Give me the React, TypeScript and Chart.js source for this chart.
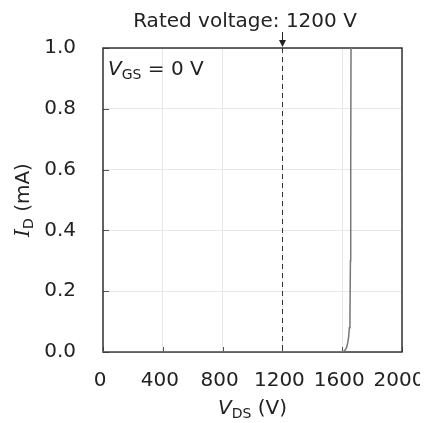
import React, { useEffect, useRef } from "react";
import { Chart, registerables } from "chart.js";

Chart.register(...registerables);

// Drain current vs. drain-source voltage, gate shorted
const vdsVolts = [0, 400, 800, 1200, 1600, 1612, 1622, 1630, 1637, 1643, 1648, 1652, 1655, 1657, 1659];
const idMilliamps = [0, 0, 0, 0, 0, 0.003, 0.008, 0.016, 0.03, 0.05, 0.08, 0.12, 0.3, 0.6, 1.0];

const xTickValues = [0, 400, 800, 1200, 1600, 2000];
const yTickValues = [0, 0.2, 0.4, 0.6, 0.8, 1.0];

const ratedVoltage = 1200;
const ratedLabel = "Rated voltage: 1200 V";

const SANS = "'DejaVu Sans', Verdana, sans-serif";
const SERIF = "'DejaVu Serif', serif";
const TEXT = "#222";
const FS = 20;
const SUB = 14;

type Seg = { t: string; font: string; dy?: number };

function segWidth(ctx: CanvasRenderingContext2D, segs: Seg[]) {
  let w = 0;
  for (const s of segs) {
    ctx.font = s.font;
    w += ctx.measureText(s.t).width;
  }
  return w;
}

function drawSegs(ctx: CanvasRenderingContext2D, segs: Seg[], x: number, y: number) {
  let cx = x;
  ctx.textBaseline = "alphabetic";
  ctx.textAlign = "left";
  for (const s of segs) {
    ctx.font = s.font;
    ctx.fillText(s.t, cx, y + (s.dy || 0));
    cx += ctx.measureText(s.t).width;
  }
}

const decorations = {
  id: "decorations",
  beforeDatasetsDraw(chart: any) {
    const { ctx, chartArea: a, scales } = chart;
    const xs = scales.x;
    const ys = scales.y;
    ctx.save();
    // inward tick marks
    ctx.strokeStyle = "#555";
    ctx.lineWidth = 1;
    for (const v of xTickValues) {
      const px = Math.round(xs.getPixelForValue(v)) + 0.5;
      ctx.beginPath();
      ctx.moveTo(px, a.bottom);
      ctx.lineTo(px, a.bottom - 5);
      ctx.stroke();
    }
    for (const v of yTickValues) {
      const py = Math.round(ys.getPixelForValue(v)) + 0.5;
      ctx.beginPath();
      ctx.moveTo(a.left, py);
      ctx.lineTo(a.left + 6, py);
      ctx.stroke();
    }
    // frame
    ctx.strokeStyle = "#333";
    ctx.lineWidth = 1.5;
    ctx.strokeRect(a.left, a.top, a.right - a.left, a.bottom - a.top);
    // rated voltage marker
    const rx = Math.round(xs.getPixelForValue(ratedVoltage)) + 0.5;
    ctx.strokeStyle = "#333";
    ctx.lineWidth = 1;
    ctx.setLineDash([5, 4]);
    ctx.beginPath();
    ctx.moveTo(rx, a.top);
    ctx.lineTo(rx, a.bottom);
    ctx.stroke();
    ctx.setLineDash([]);
    ctx.restore();
  },
  afterDraw(chart: any) {
    const { ctx, chartArea: a, scales } = chart;
    const xs = scales.x;
    ctx.save();
    ctx.fillStyle = TEXT;
    ctx.strokeStyle = "#222";

    // annotation with arrow
    const rx = Math.round(xs.getPixelForValue(ratedVoltage)) + 0.5;
    ctx.font = `${FS}px ${SANS}`;
    ctx.textAlign = "center";
    ctx.textBaseline = "alphabetic";
    ctx.fillText(ratedLabel, 237, 19);
    ctx.lineWidth = 1;
    ctx.beginPath();
    ctx.moveTo(rx, 24);
    ctx.lineTo(rx, 34);
    ctx.stroke();
    ctx.beginPath();
    ctx.moveTo(rx - 3.5, 32);
    ctx.lineTo(rx + 3.5, 32);
    ctx.lineTo(rx, a.top - 1);
    ctx.closePath();
    ctx.fill();

    // gate condition label
    drawSegs(
      ctx,
      [
        { t: "V", font: `italic ${FS}px ${SANS}` },
        { t: "GS", font: `${SUB}px ${SANS}`, dy: 4 },
        { t: " = 0 V", font: `${FS}px ${SANS}` },
      ],
      a.left + 5,
      a.top + 27
    );

    // x axis title
    const xt: Seg[] = [
      { t: "V", font: `italic ${FS}px ${SANS}` },
      { t: "DS", font: `${SUB}px ${SANS}`, dy: 4 },
      { t: " (V)", font: `${FS}px ${SANS}` },
    ];
    const xw = segWidth(ctx, xt);
    const xc = (a.left + a.right) / 2;
    drawSegs(ctx, xt, xc - xw / 2, 406);

    // y axis title
    const yt: Seg[] = [
      { t: "I", font: `italic ${FS}px ${SERIF}` },
      { t: "D", font: `${SUB}px ${SANS}`, dy: 4 },
      { t: " (mA)", font: `${FS}px ${SANS}` },
    ];
    const yw = segWidth(ctx, yt);
    const yc = (a.top + a.bottom) / 2;
    ctx.translate(15, yc);
    ctx.rotate(-Math.PI / 2);
    drawSegs(ctx, yt, -yw / 2, 6);
    ctx.restore();
  },
};

export default function App() {
  const ref = useRef<HTMLCanvasElement | null>(null);

  useEffect(() => {
    if (!ref.current) return;
    const chart = new Chart(ref.current, {
      type: "line",
      data: {
        datasets: [
          {
            data: vdsVolts.map((v, i) => ({ x: v, y: idMilliamps[i] })),
            borderColor: "#777",
            borderWidth: 1.5,
            pointRadius: 0,
            tension: 0,
            fill: false,
          },
        ],
      },
      options: {
        animation: false,
        responsive: false,
        maintainAspectRatio: false,
        layout: { padding: { top: 40, right: 26, left: 0, bottom: 8 } },
        plugins: { legend: { display: false }, tooltip: { enabled: false } },
        scales: {
          x: {
            type: "linear",
            min: 0,
            max: 2000,
            afterBuildTicks: (s: any) => {
              s.ticks = xTickValues.map((v) => ({ value: v }));
            },
            afterFit: (s: any) => {
              s.height = 63;
              s.paddingLeft = 0;
              s.paddingRight = 0;
            },
            grid: { color: "#e8e8e8", drawTicks: false, lineWidth: 1 },
            border: { display: false },
            ticks: {
              color: TEXT,
              padding: 17,
              labelOffset: -3,
              maxRotation: 0,
              autoSkip: false,
              font: { family: SANS, size: FS },
              callback: (v: any) => String(v),
            },
          },
          y: {
            type: "linear",
            min: 0,
            max: 1,
            afterBuildTicks: (s: any) => {
              s.ticks = yTickValues.map((v) => ({ value: v }));
            },
            afterFit: (s: any) => {
              s.width = 95;
              s.paddingTop = 0;
              s.paddingBottom = 0;
            },
            grid: { color: "#e8e8e8", drawTicks: false, lineWidth: 1 },
            border: { display: false },
            ticks: {
              color: TEXT,
              padding: 27,
              autoSkip: false,
              font: { family: SANS, size: FS },
              callback: (v: any) => Number(v).toFixed(1),
            },
          },
        },
      },
      plugins: [decorations],
    });
    return () => chart.destroy();
  }, []);

  return (
    <div style={{ width: 420, height: 415 }}>
      <canvas ref={ref} width={420} height={415} />
    </div>
  );
}
